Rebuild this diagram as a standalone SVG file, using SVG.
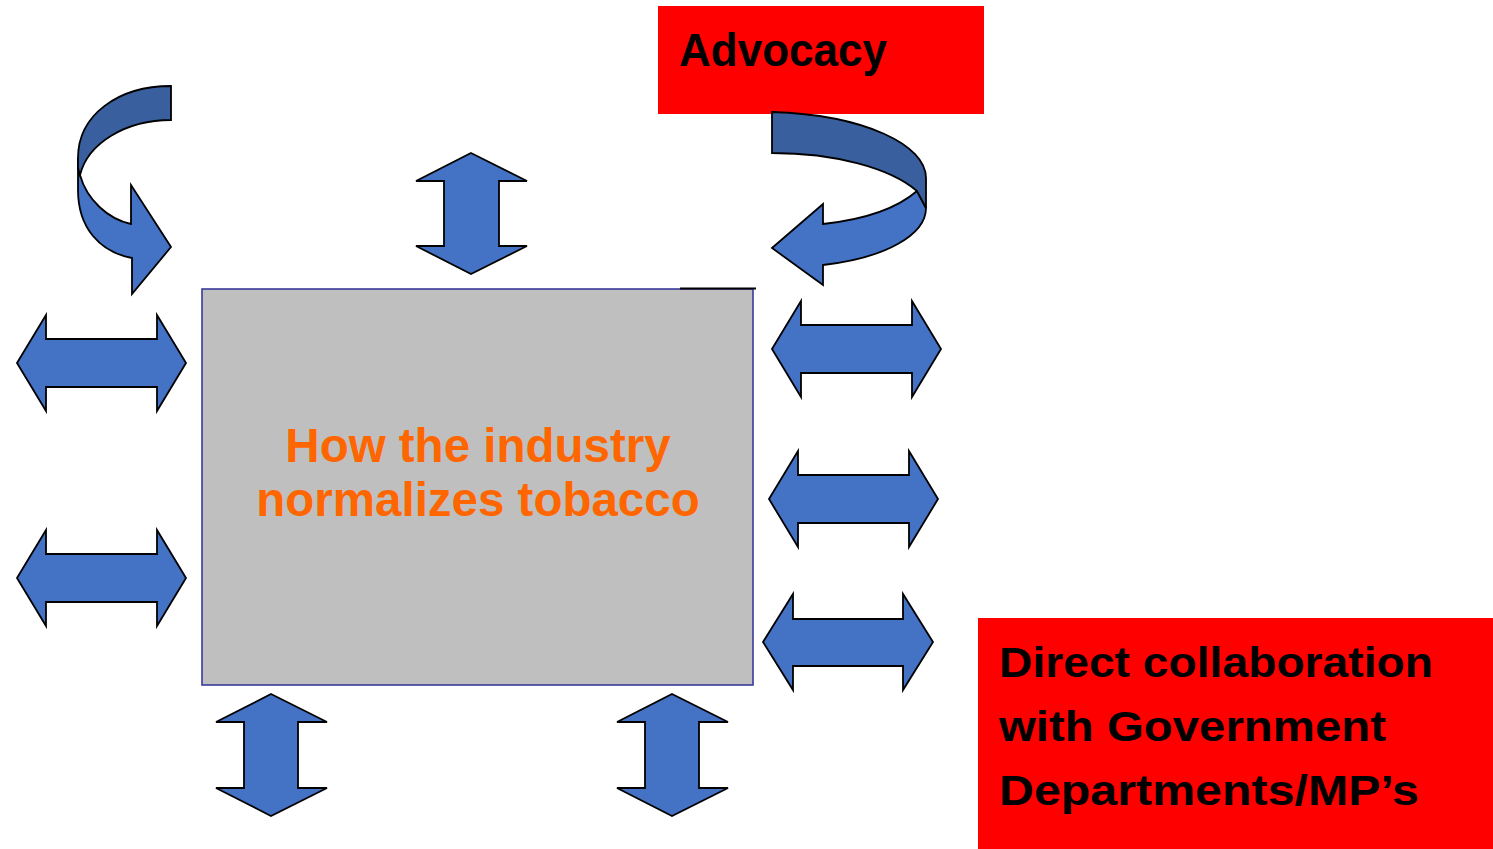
<svg xmlns="http://www.w3.org/2000/svg" width="1493" height="849" viewBox="0 0 1493 849">
<style>
.arr{fill:#4472C4;stroke:#000;stroke-width:1.8;stroke-linejoin:miter}
.dark{fill:#3A5F9E;stroke:#000;stroke-width:1.8}
.lbl{font-family:"Liberation Sans",Arial,sans-serif;font-weight:bold;fill:#000}
.ctr{font-family:"Liberation Sans",Arial,sans-serif;font-weight:bold;fill:#FF6600;font-size:47.5px;text-anchor:middle}
</style>
<rect width="1493" height="849" fill="#fff"/>
<g id="advocacy">
<rect x="658" y="6" width="326" height="108" fill="#FF0000"/>
<text class="lbl" x="679" y="66" font-size="46" textLength="208" lengthAdjust="spacingAndGlyphs">Advocacy</text>
</g>
<g id="direct-collaboration">
<rect x="978" y="618" width="515" height="231" fill="#FF0000"/>
<text class="lbl" x="999" y="677" font-size="43" textLength="434" lengthAdjust="spacingAndGlyphs">Direct collaboration</text>
<text class="lbl" x="999" y="741" font-size="43" textLength="387" lengthAdjust="spacingAndGlyphs">with Government</text>
<text class="lbl" x="999" y="805" font-size="43" textLength="420" lengthAdjust="spacingAndGlyphs">Departments/MP’s</text>
</g>
<g id="industry">
<rect x="202" y="289" width="551" height="396" fill="#BFBFBF" stroke="#3A3A9E" stroke-width="1.6"/>
<line x1="680" y1="288.5" x2="756" y2="288.5" stroke="#000" stroke-width="2"/>
<text class="ctr" x="478" y="462">How the industry</text>
<text class="ctr" x="478" y="516">normalizes tobacco</text>
</g>
<g id="connectors">
<g id="curve-left">
<path class="arr" d="M78,158 L80,175 C87,200 108,219 131,224 L131,185 L171,247 L132,294 L132,258 C100,252 78,228 78,190 Z"/>
<path class="dark" d="M171,86 L171,120 C126,120 88,143 80,175 L78,168 L78,158 C78,115 118,86 171,86 Z"/>
</g>
<g id="curve-right">
<path class="arr" d="M917,191 C895,210 860,220 823,224 L823,204 L772,248 L823,285 L823,265 C885,258 926,235 926,208 Z"/>
<path class="dark" d="M772,112 C865,115 926,145 926,178 L926,208 L917,191 C890,168 835,153 772,153 Z"/>
</g>
<path id="vert-top" class="arr" d="M471,153 L527,181 L499,181 L499,246 L527,246 L471,274 L416,246 L444,246 L444,181 L416,181 Z"/>
<path id="vert-bottom-left" class="arr" d="M271,694 L327,722 L298,722 L298,788 L327,788 L271,816 L216,788 L244,788 L244,722 L216,722 Z"/>
<path id="vert-bottom-right" class="arr" d="M672,694 L728,722 L699,722 L699,788 L728,788 L672,816 L617,788 L645,788 L645,722 L617,722 Z"/>
<path id="horiz-left-1" class="arr" d="M17,363 L46,315 L46,339 L157,339 L157,315 L186,363 L157,411 L157,387 L46,387 L46,411 Z"/>
<path id="horiz-left-2" class="arr" d="M17,578 L46,530 L46,554 L157,554 L157,530 L186,578 L157,626 L157,602 L46,602 L46,626 Z"/>
<path id="horiz-right-1" class="arr" d="M772,349 L801,301 L801,325 L912,325 L912,301 L941,349 L912,397 L912,373 L801,373 L801,397 Z"/>
<path id="horiz-right-2" class="arr" d="M769,499 L798,451 L798,475 L909,475 L909,451 L938,499 L909,547 L909,523 L798,523 L798,547 Z"/>
<path id="horiz-right-3" class="arr" d="M763,642 L793,594 L793,619 L903,619 L903,594 L933,642 L903,690 L903,666 L793,666 L793,690 Z"/>
</g>
</svg>
